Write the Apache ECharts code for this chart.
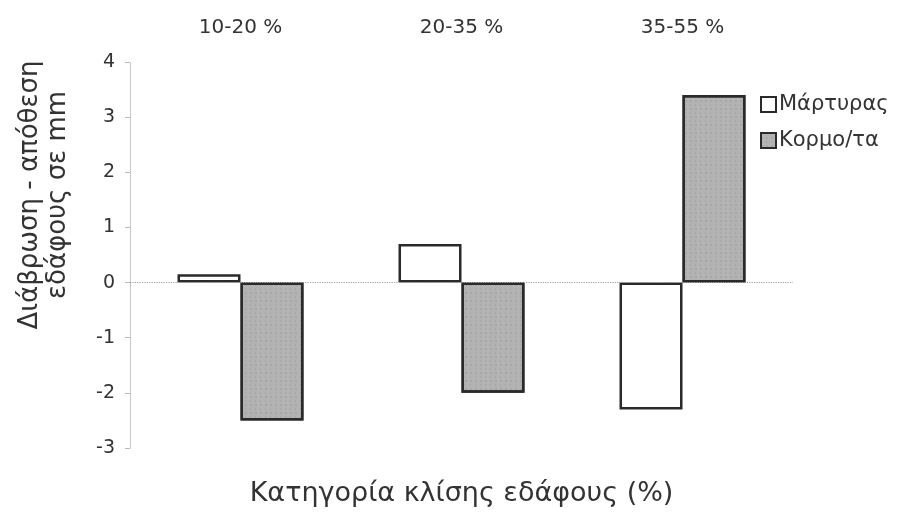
<!DOCTYPE html>
<html>
<head>
<meta charset="utf-8">
<script src="https://cdn.jsdelivr.net/npm/echarts@6/dist/echarts.min.js"></script>
<style>
  html, body { margin: 0; padding: 0; background: #fff; }
  #chart { width: 908px; height: 519px; }
</style>
</head>
<body>
<div id="chart"></div>
<script>
// slope classes (top labels)
const categories = ['10-20 %', '20-35 %', '35-55 %'];
// erosion (-) / deposition (+) of soil in mm
const control = [0.15, 0.7, -2.3];      // Μάρτυρας
const logs = [-2.5, -2.0, 3.4];         // Κορμο/τα
const yTicks = [-3, 4, 1];              // min, max, interval

const font = '"DejaVu Sans", Verdana, sans-serif';
const ink = '#333333';

let myChart = echarts.init(document.getElementById('chart'));
myChart.setOption({
    backgroundColor: '#fff',
    animation: false,
    textStyle: { fontFamily: font },
    grid: { left: 130, right: 115, top: 62, bottom: 71 },
    legend: {
        orient: 'vertical',
        left: 755,
        top: 89,
        itemWidth: 15,
        itemHeight: 15,
        itemGap: 15,
        icon: 'rect',
        textStyle: { fontSize: 21, color: ink, fontFamily: font, padding: [0, 0, 0, -2] },
        data: ['Μάρτυρας', 'Κορμο/τα']
    },
    xAxis: [{
        type: 'category',
        data: categories,
        position: 'top',
        axisLine: { show: false },
        axisTick: { show: false },
        axisLabel: { fontSize: 20, color: ink, margin: 24 }
    }, {
        type: 'category',
        data: categories,
        position: 'bottom',
        axisLine: { show: false, onZero: false },
        axisTick: { show: false },
        axisLabel: { show: false },
        name: 'Κατηγορία κλίσης εδάφους (%)',
        nameLocation: 'middle',
        nameGap: 32,
        nameTextStyle: { fontSize: 27, color: ink }
    }],
    yAxis: {
        type: 'value',
        min: yTicks[0],
        max: yTicks[1],
        interval: yTicks[2],
        splitLine: { show: false },
        axisLine: { show: true, lineStyle: { color: '#bbb', type: 'dotted', width: 1 } },
        axisTick: { show: true, length: 5, lineStyle: { color: '#bbb' } },
        axisLabel: { fontSize: 19, color: ink, margin: 15 },
        name: 'Διάβρωση - απόθεση\nεδάφους σε mm',
        nameLocation: 'middle',
        nameGap: 58,
        nameTextStyle: { fontSize: 26, color: ink, lineHeight: 28, padding: [0, 0, 0, 120] }
    },
    series: [{
        name: 'Μάρτυρας',
        type: 'bar',
        data: control,
        barGap: '0%',
        barCategoryGap: '43%',
        itemStyle: { color: '#ffffff', borderColor: '#2a2a2a', borderWidth: 2.5 },
        markLine: {
            silent: true,
            symbol: 'none',
            label: { show: false },
            lineStyle: { color: '#a0a0a0', type: 'dotted', width: 1.2 },
            data: [{ yAxis: 0 }]
        }
    }, {
        name: 'Κορμο/τα',
        type: 'bar',
        data: logs,
        itemStyle: {
            color: '#b3b3b3',
            borderColor: '#2a2a2a',
            borderWidth: 2.5,
            decal: {
                symbol: 'rect',
                symbolSize: 0.6,
                color: 'rgba(60,60,60,0.3)',
                dashArrayX: [[2, 3], [1, 4]],
                dashArrayY: [2, 2]
            }
        }
    }]
});
</script>
</body>
</html>
